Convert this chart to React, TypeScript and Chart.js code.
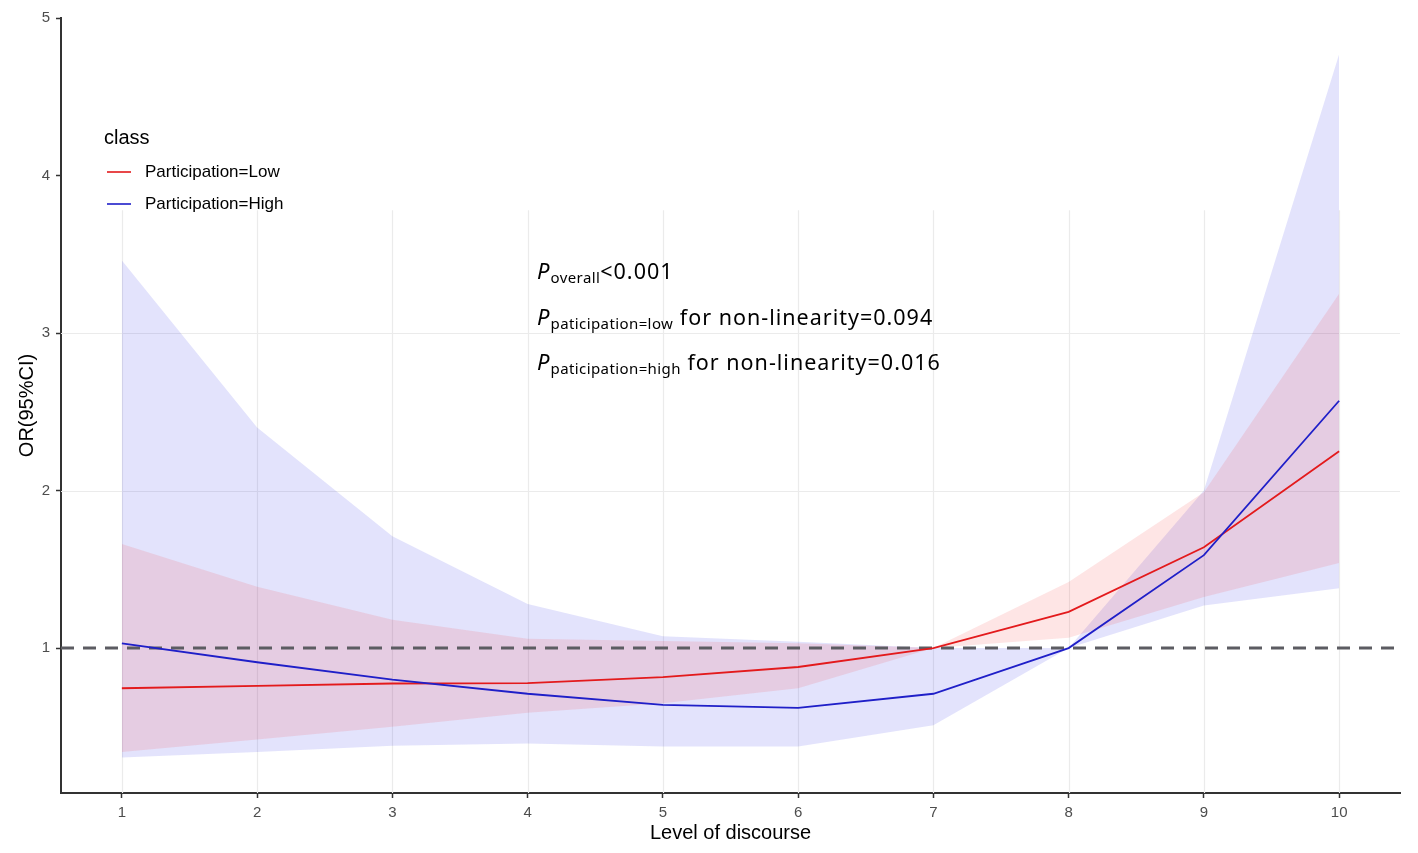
import React, { useEffect, useRef } from 'react';
import { Chart, registerables } from 'chart.js';

Chart.register(...registerables);

// Data
const LEVELS = [1, 2, 3, 4, 5, 6, 7, 8, 9, 10];

const LOW_OR = [0.745, 0.76, 0.775, 0.777, 0.815, 0.88, 1.0, 1.23, 1.64, 2.25];
const LOW_UPPER = [1.66, 1.39, 1.18, 1.06, 1.045, 1.03, 1.0, 1.42, 1.99, 3.25];
const LOW_LOWER = [0.34, 0.42, 0.5, 0.59, 0.65, 0.745, 1.0, 1.065, 1.325, 1.54];

const HIGH_OR = [1.03, 0.91, 0.8, 0.71, 0.64, 0.62, 0.71, 1.0, 1.59, 2.57];
const HIGH_UPPER = [3.46, 2.4, 1.71, 1.28, 1.075, 1.04, 1.0, 1.0, 2.0, 4.77];
const HIGH_LOWER = [0.305, 0.34, 0.38, 0.395, 0.375, 0.375, 0.51, 1.0, 1.27, 1.38];

const Y_TICKS = [1, 2, 3, 4, 5];
const GRID_Y = [2, 3];
const GRID_TOP = 3.78;
const REF_OR = 1;

const X_MIN = 0.55;
const X_MAX = 10.45;
const Y_MIN = 0.08;
const Y_MAX = 5.0;

const SERIES_LABELS = ['Participation=Low', 'Participation=High'];
const SERIES_COLORS = ['#e31a1c', '#1f1fc8'];
const LEGEND_TITLE = 'class';

const ANNOTATIONS = [
  { sub: 'overall', text: '<0.001', y: 3.345 },
  { sub: 'paticipation=low', text: ' for non-linearity=0.094', y: 3.048 },
  { sub: 'paticipation=high', text: ' for non-linearity=0.016', y: 2.768 },
];
const ANNOT_X = 4.07;

const FONT = '"Liberation Sans", Arial, sans-serif';
const ANNOT_FONT = '"Noto Sans", "Open Sans", sans-serif';

const toPoints = (ys: number[]) => LEVELS.map((x, i) => ({ x, y: ys[i] }));

// Partial grid (only below the legend strip), drawn under the bands
const gridPlugin = {
  id: 'partialGrid',
  beforeDatasetsDraw(chart: Chart) {
    const { ctx, chartArea } = chart;
    const xs = chart.scales.x;
    const ys = chart.scales.y;
    const top = ys.getPixelForValue(GRID_TOP);
    ctx.save();
    ctx.strokeStyle = '#ebebeb';
    ctx.lineWidth = 1.2;
    LEVELS.forEach(v => {
      const px = Math.round(xs.getPixelForValue(v)) + 0.5;
      ctx.beginPath();
      ctx.moveTo(px, chartArea.bottom);
      ctx.lineTo(px, top);
      ctx.stroke();
    });
    GRID_Y.forEach(v => {
      const py = Math.round(ys.getPixelForValue(v)) + 0.5;
      ctx.beginPath();
      ctx.moveTo(chartArea.left, py);
      ctx.lineTo(chartArea.right, py);
      ctx.stroke();
    });
    ctx.restore();
  },
};

// Legend + p-value annotations
const overlayPlugin = {
  id: 'overlay',
  afterDraw(chart: Chart) {
    const { ctx, chartArea } = chart;
    const xs = chart.scales.x;
    const ys = chart.scales.y;
    const c = ctx as any;
    ctx.save();

    // legend
    const lx = chartArea.left + 43;
    ctx.fillStyle = '#000';
    ctx.textBaseline = 'alphabetic';
    ctx.font = `20px ${FONT}`;
    ctx.fillText(LEGEND_TITLE, lx, chartArea.top + 126);
    SERIES_LABELS.forEach((label, i) => {
      const cy = chartArea.top + 154 + i * 32;
      ctx.strokeStyle = SERIES_COLORS[i];
      ctx.lineWidth = 1.6;
      ctx.beginPath();
      ctx.moveTo(lx + 3, cy);
      ctx.lineTo(lx + 27, cy);
      ctx.stroke();
      ctx.fillStyle = '#000';
      ctx.font = `17px ${FONT}`;
      ctx.textBaseline = 'middle';
      ctx.fillText(label, lx + 41, cy);
    });

    // annotations
    ctx.textBaseline = 'alphabetic';
    ctx.fillStyle = '#000';
    const ax = xs.getPixelForValue(ANNOT_X);
    ANNOTATIONS.forEach(a => {
      const py = ys.getPixelForValue(a.y);
      c.letterSpacing = '0px';
      ctx.font = `italic 22px ${ANNOT_FONT}`;
      ctx.fillText('P', ax, py);
      let cx = ax + ctx.measureText('P').width + 1;
      c.letterSpacing = '0.4px';
      ctx.font = `15px ${ANNOT_FONT}`;
      ctx.fillText(a.sub, cx, py + 4);
      cx += ctx.measureText(a.sub).width;
      c.letterSpacing = '1px';
      ctx.font = `21.5px ${ANNOT_FONT}`;
      ctx.fillText(a.text, cx, py);
    });
    c.letterSpacing = '0px';
    ctx.restore();
  },
};

const App: React.FC = () => {
  const chartRef = useRef<HTMLCanvasElement>(null);
  const chartInstance = useRef<Chart | null>(null);

  useEffect(() => {
    if (!chartRef.current) return;
    const ctx = chartRef.current.getContext('2d');
    if (!ctx) return;

    if (chartInstance.current) {
      chartInstance.current.destroy();
    }

    const band = (data: number[], color: string, fill: any, order: number) => ({
      data: toPoints(data),
      borderWidth: 0,
      borderColor: 'rgba(0,0,0,0)',
      backgroundColor: color,
      pointRadius: 0,
      fill,
      order,
    });

    chartInstance.current = new Chart(ctx, {
      type: 'line',
      data: {
        datasets: [
          band(HIGH_UPPER, 'rgba(40, 40, 235, 0.13)', '+1', 4),
          band(HIGH_LOWER, 'rgba(0,0,0,0)', false, 4),
          band(LOW_UPPER, 'rgba(245, 40, 40, 0.12)', '+1', 3),
          band(LOW_LOWER, 'rgba(0,0,0,0)', false, 3),
          {
            data: [
              { x: X_MIN, y: REF_OR },
              { x: X_MAX, y: REF_OR },
            ],
            borderColor: '#5c5c62',
            borderWidth: 3,
            borderDash: [13, 9],
            pointRadius: 0,
            fill: false,
            order: 2,
          },
          {
            label: SERIES_LABELS[0],
            data: toPoints(LOW_OR),
            borderColor: SERIES_COLORS[0],
            borderWidth: 1.8,
            pointRadius: 0,
            tension: 0,
            fill: false,
            order: 1,
          },
          {
            label: SERIES_LABELS[1],
            data: toPoints(HIGH_OR),
            borderColor: SERIES_COLORS[1],
            borderWidth: 1.8,
            pointRadius: 0,
            tension: 0,
            fill: false,
            order: 0,
          },
        ],
      },
      options: {
        responsive: true,
        maintainAspectRatio: false,
        animation: false,
        layout: { padding: { top: 18, right: 18, left: 0, bottom: 0 } },
        plugins: {
          legend: { display: false },
          tooltip: { enabled: false },
        },
        scales: {
          x: {
            type: 'linear',
            min: X_MIN,
            max: X_MAX,
            afterBuildTicks: (s: any) => {
              s.ticks = LEVELS.map(v => ({ value: v }));
            },
            afterFit: (s: any) => {
              s.height = 60;
            },
            grid: { drawOnChartArea: false, tickLength: 5, tickColor: '#333', tickWidth: 1.5 },
            border: { color: '#333', width: 2 },
            ticks: {
              color: '#4d4d4d',
              font: { family: FONT, size: 15 },
              padding: 6,
              autoSkip: false,
              maxRotation: 0,
            },
            title: {
              display: true,
              text: 'Level of discourse',
              color: '#000',
              font: { family: FONT, size: 20 },
              padding: { top: 0, bottom: 8 },
            },
          },
          y: {
            type: 'linear',
            min: Y_MIN,
            max: Y_MAX,
            afterBuildTicks: (s: any) => {
              s.ticks = Y_TICKS.map(v => ({ value: v }));
            },
            afterFit: (s: any) => {
              s.width = 61;
            },
            grid: { drawOnChartArea: false, tickLength: 5, tickColor: '#333', tickWidth: 1.5 },
            border: { color: '#333', width: 2 },
            ticks: {
              color: '#4d4d4d',
              font: { family: FONT, size: 15 },
              padding: 6,
            },
            title: {
              display: true,
              text: 'OR(95%CI)',
              color: '#000',
              font: { family: FONT, size: 20 },
              padding: { top: 15, bottom: 0 },
            },
          },
        },
      },
      plugins: [gridPlugin, overlayPlugin],
    });

    return () => {
      if (chartInstance.current) {
        chartInstance.current.destroy();
        chartInstance.current = null;
      }
    };
  }, []);

  return (
    <div style={{ position: 'absolute', left: 0, top: 0, width: 1418, height: 853, background: '#fff' }}>
      <canvas ref={chartRef}></canvas>
    </div>
  );
};

export default App;
